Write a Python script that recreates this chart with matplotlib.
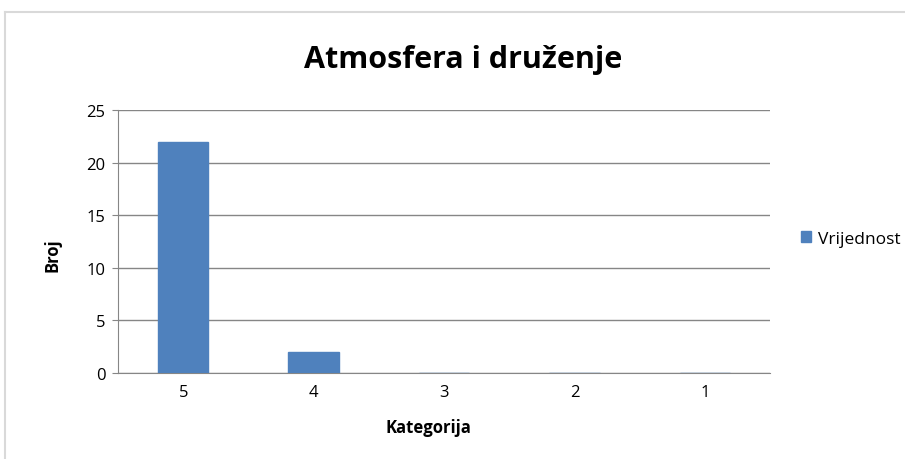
import matplotlib
matplotlib.use('Agg')
import matplotlib.pyplot as plt
from matplotlib.lines import Line2D
import numpy as np

plt.rcParams['font.family'] = ['Open Sans', 'DejaVu Sans']

categories = ['5', '4', '3', '2', '1']
values = [22, 2, 0, 0, 0]
series_name = 'Vrijednost'
bar_color = '#4F81BD'

fig = plt.figure(figsize=(9.05, 4.6), dpi=100)
ax = fig.add_axes([118 / 905, 1 - 374 / 460, 652 / 905, 263 / 460])

x = np.arange(len(categories))
ax.bar(x, values, width=0.385, color=bar_color, edgecolor=bar_color,
       linewidth=1, label=series_name, zorder=3)

ax.set_xlim(-0.5, len(categories) - 0.5)
ax.set_ylim(0, 25)
ax.set_yticks(np.arange(0, 26, 5))
ax.set_xticks(x)
ax.set_xticklabels(categories)
ax.grid(axis='y', color='#868686', linewidth=1, zorder=0)

for s in ['top', 'right']:
    ax.spines[s].set_visible(False)
ax.spines['left'].set_color('#868686')
ax.spines['bottom'].set_color('#868686')
ax.tick_params(axis='y', length=4, color='#868686', labelsize=12, pad=5)
ax.tick_params(axis='x', length=0, labelsize=12, pad=8)

fig.text(463 / 905, 1 - 60 / 460, 'Atmosfera i druženje', ha='center', va='center',
         fontsize=22, fontweight='bold')
fig.text(52 / 905, 1 - 255 / 460, 'Broj', ha='center', va='center', rotation=90,
         fontsize=12, fontweight='bold')
fig.text(428 / 905, 1 - 428 / 460, 'Kategorija', ha='center', va='center',
         fontsize=12, fontweight='bold')

fig.legend(loc='center left', bbox_to_anchor=(785 / 905, 1 - 240 / 460), frameon=False,
           fontsize=12.5, handlelength=0.6, handleheight=0.6, handletextpad=0.4)

# light frame around the chart area
fig.add_artist(Line2D([5 / 905, 1], [1 - 13 / 460] * 2, color='#D9D9D9', linewidth=1.5,
                      transform=fig.transFigure))
fig.add_artist(Line2D([5 / 905] * 2, [0, 1 - 13 / 460], color='#D9D9D9', linewidth=1.5,
                      transform=fig.transFigure))

fig.savefig('out.png', dpi=100)
